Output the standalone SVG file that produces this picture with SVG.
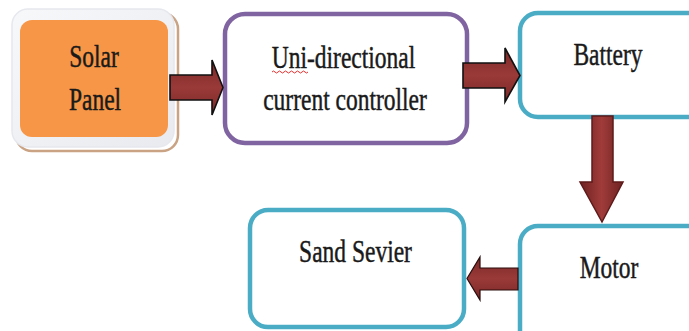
<svg xmlns="http://www.w3.org/2000/svg" width="689" height="331" viewBox="0 0 689 331">
<defs>
<linearGradient id="gh" x1="0" y1="0" x2="0" y2="1">
<stop offset="0" stop-color="#7a2827"/>
<stop offset="0.5" stop-color="#9a3a38"/>
<stop offset="1" stop-color="#7a2827"/>
</linearGradient>
<linearGradient id="gv" x1="0" y1="0" x2="1" y2="0">
<stop offset="0" stop-color="#6e2222"/>
<stop offset="0.5" stop-color="#a03c3a"/>
<stop offset="1" stop-color="#6e2222"/>
</linearGradient>
<linearGradient id="frame" x1="0" y1="0" x2="1" y2="1">
<stop offset="0" stop-color="#f7f8fa"/>
<stop offset="1" stop-color="#e8eaef"/>
</linearGradient>
</defs>
<style>
.t{font-family:"Liberation Serif","Times New Roman",serif;font-size:23.5px;fill:#1a1a1a;stroke:#1a1a1a;stroke-width:0.35;text-anchor:middle}
.teal{fill:#ffffff;stroke:#4bacc6;stroke-width:4.5}
.arr{fill:url(#gh);stroke:#111;stroke-width:1.6;stroke-linejoin:miter}
</style>
<rect width="689" height="331" fill="#ffffff"/>

<g id="solar-panel">
<rect x="16" y="13" width="162" height="138" rx="16" fill="none" stroke="#c9a384" stroke-width="2.5"/>
<rect x="12" y="9" width="162" height="138" rx="16" fill="url(#frame)" stroke="#e6e8ee" stroke-width="1.5"/>
<rect x="20" y="20" width="148" height="117" rx="12" fill="#f79646"/>
<text class="t" transform="translate(94,67) scale(1,1.35)">Solar</text>
<text class="t" transform="translate(95,110) scale(1,1.35)">Panel</text>
</g>

<g id="controller">
<rect x="225" y="14" width="242" height="129" rx="20" fill="#ffffff" stroke="#8064a2" stroke-width="4.5"/>
<text class="t" transform="translate(343.5,68) scale(1,1.35)">Uni-directional</text>
<path d="M272 72 q1.5 -2 3 0 t3 0 t3 0 t3 0 t3 0 t3 0 t3 0 t3 0 t3 0 t3 0 t3 0 t3 0" fill="none" stroke="#e03030" stroke-width="1"/>
<text class="t" transform="translate(345,110) scale(1,1.35)">current controller</text>
</g>

<g id="battery">
<rect x="520" y="13" width="190" height="104" rx="18" class="teal"/>
<text class="t" transform="translate(608,65) scale(1,1.35)">Battery</text>
</g>

<g id="motor">
<rect x="520" y="226" width="190" height="130" rx="18" class="teal"/>
<text class="t" transform="translate(609,278) scale(1,1.35)">Motor</text>
</g>

<g id="sand-sevier">
<rect x="250" y="210" width="214" height="117" rx="18" class="teal"/>
<text class="t" transform="translate(355.5,262) scale(1,1.35)">Sand Sevier</text>
</g>

<g id="connectors">
<polygon class="arr" points="170,75 212,75 212,60 223,87.5 212,115 212,100 170,100"/>
<polygon class="arr" points="463,63 505,63 505,48 520,75.5 505,102 505,88 463,88"/>
<polygon points="592,116 613,116 613,182 623,182 602,222 580,182 592,182" fill="url(#gv)" stroke="#5e1a1a" stroke-width="1.5"/>
<polygon points="518,268 480,268 480,257 467,278.5 480,300 480,290 518,290" fill="url(#gh)" stroke="#2a0c0c" stroke-width="1.2"/>
</g>
</svg>
